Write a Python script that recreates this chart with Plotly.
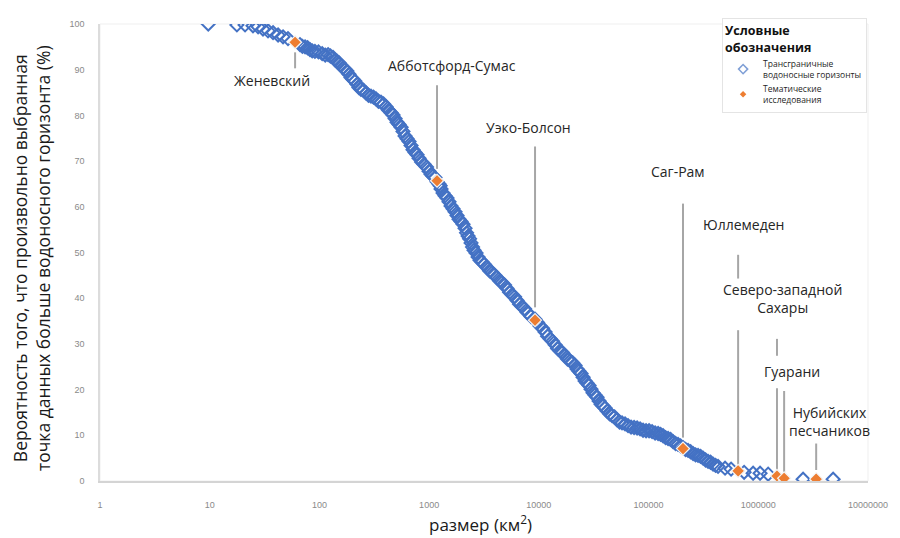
import plotly.graph_objects as go
import math

# Transboundary aquifers: size (km2) vs exceedance probability (%)
blue_size = [9.7, 17.7, 21, 24.8, 27.6, 30.6, 34, 37.8, 42, 46.6, 51.7, 66.5, 74, 82, 91, 106, 120, 133,
             145, 157, 171, 186, 202, 220, 239, 266, 295, 328, 364, 405, 450, 489, 532, 578, 629, 684,
             744, 809, 899, 998, 1086, 1284, 1396, 1518, 1651, 1796, 1953, 2124, 2264, 2410, 2566, 2792,
             3036, 3372, 3744, 4158, 4620, 5130, 5700, 6330, 7030, 7800, 10250, 11400, 12650, 14060,
             15600, 17300, 19250, 21400, 23250, 25300, 27500, 29900, 32500, 35400, 38500, 41900, 46500,
             51600, 57300, 65000, 73800, 83700, 94900, 107700, 122200, 135600, 150600, 167100, 185600,
             229000, 254600, 282600, 314000, 348600, 387000, 430000, 498000, 565000, 743000, 897000,
             1038000, 1230000, 2560000, 4810000]
blue_pct = [100.0, 99.8, 99.8, 99.6, 99.4, 98.9, 98.5, 98.1, 97.6, 97.2, 96.8, 95.5, 95.0, 94.4, 94.0,
            93.5, 93.3, 92.7, 91.8, 90.9, 90.1, 89.0, 87.9, 86.8, 85.7, 84.9, 84.2, 83.6, 82.9, 81.9,
            80.6, 79.3, 78.0, 76.5, 74.9, 73.4, 71.9, 70.6, 69.3, 67.8, 66.7, 63.9, 62.4, 61.1, 59.6,
            58.1, 56.8, 55.3, 53.6, 52.1, 50.5, 49.0, 47.9, 46.7, 45.6, 44.5, 43.4, 42.1, 40.8, 39.5,
            38.2, 36.9, 33.9, 32.6, 31.1, 29.8, 28.5, 27.4, 26.3, 25.3, 24.0, 22.7, 21.4, 20.1, 18.8,
            17.5, 16.4, 15.3, 14.3, 13.4, 12.7, 12.1, 11.7, 11.4, 11.0, 10.8, 10.4, 9.9, 9.3, 8.6, 8.0,
            6.7, 6.0, 5.6, 5.0, 4.3, 3.7, 3.2, 2.8, 2.6, 1.9, 1.7, 1.7, 1.5, 0.4, 0.4]
blue_size_dense = [70, 78, 86, 98, 113, 126, 139, 151, 164, 178,
                   194, 211, 229, 252, 280, 311, 345, 384, 427, 469,
                   510, 555, 603, 656, 713, 776, 853, 947, 1041, 1130,
                   1180, 1230, 1260, 1339, 1456, 1583, 1722, 1873, 2037, 2193,
                   2336, 2487, 2677, 2911, 3200, 3553, 3946, 4383, 4868, 5408,
                   6007, 6671, 7405, 8485, 9230, 9730, 10810, 12010, 13340, 14810,
                   16430, 18250, 20300, 22300, 24250, 26380, 28680, 31170, 33920, 36920,
                   40160, 44140, 48980, 54370, 61030, 69260, 78600, 89100, 101100, 114700,
                   128700, 142900, 158600, 176100, 195700, 206400, 217400, 241500, 268200, 297900,
                   330800, 367300, 408000]
blue_pct_dense = [95.1, 94.8, 94.1, 93.9, 93.2, 93.0, 92.1, 91.5, 90.4, 89.7,
                  88.3, 87.5, 86.1, 85.5, 84.4, 84.0, 83.1, 82.5, 81.1, 80.1,
                  78.5, 77.4, 75.5, 74.3, 72.5, 71.4, 69.8, 68.7, 67.1, 66.4,
                  65.5, 65.0, 64.6, 63.0, 61.9, 60.2, 58.9, 57.3, 56.2, 54.3,
                  53.0, 51.2, 49.9, 48.3, 47.4, 46.0, 45.1, 43.8, 42.9, 41.3,
                  40.3, 38.7, 37.7, 36.0, 35.4, 34.7, 33.4, 31.7, 30.6, 29.0,
                  28.1, 26.7, 25.9, 24.5, 23.5, 21.9, 20.9, 19.3, 18.3, 16.8,
                  16.0, 14.7, 14.0, 12.9, 12.5, 11.8, 11.6, 11.1, 11.0, 10.5,
                  10.2, 9.5, 9.1, 8.2, 7.7, 7.3, 6.9, 6.4, 5.7, 5.4,
                  4.6, 4.1, 3.4]

# Case studies
case_names = ["Женевский", "Абботсфорд-Сумас", "Уэко-Болсон", "Саг-Рам", "Юллемеден",
              "Северо-западной<br>Сахары", "Гуарани", "Нубийских<br>песчаников"]
case_size = [60, 1180, 9230, 206000, 655000, 1480000, 1720000, 3370000]
case_pct = [96.0, 65.7, 35.2, 7.1, 2.2, 1.1, 0.6, 0.4]

x_tick_vals = [1, 10, 100, 1000, 10000, 100000, 1000000, 10000000]
x_tick_text = ["1", "10", "100", "1000", "10000", "100000", "1000000", "10000000"]
y_tick_vals = [0, 10, 20, 30, 40, 50, 60, 70, 80, 90, 100]

legend_blue = "Трансграничные<br>водоносные горизонты"
legend_orange = "Тематические<br>исследования"

# label layout (centre of label in data units) and leader-line y-extents per case
label_pos = [(37, 87.7), (1615, 90.9), (7980, 77.3), (186000, 67.8), (728000, 56.2),
             (1650000, 40.0), (2030000, 23.9), (4420000, 13.0)]
leader_segments = [[(93.8, 90.3)], [(86.6, 68.3)], [(73.2, 38.0)], [(60.7, 9.5)],
                   [(49.5, 44.3), (33.0, 3.5)], [(31.1, 27.4), (20.3, 2.4)], [(19.7, 1.9)],
                   [(8.2, 2.4)]]

BLUE = "#4472C4"
ORANGE = "#ED7D31"

all_size = blue_size + blue_size_dense
all_pct = blue_pct + blue_pct_dense

fig = go.Figure()
fig.add_trace(go.Scatter(
    x=all_size, y=all_pct, mode="markers", showlegend=False,
    marker=dict(symbol="diamond-open", size=10, color=BLUE, line=dict(width=2, color=BLUE)),
))
fig.add_trace(go.Scatter(
    x=case_size, y=case_pct, mode="markers", showlegend=False,
    marker=dict(symbol="diamond", size=10, color=ORANGE, line=dict(width=1.2, color="#f4f4f4")),
))
# legend-only entries
fig.add_trace(go.Scatter(x=[None], y=[None], mode="markers", name=legend_blue,
                         marker=dict(symbol="diamond-open", size=7, color="#7f9fd6",
                                     line=dict(width=1.5, color="#7f9fd6"))))
fig.add_trace(go.Scatter(x=[None], y=[None], mode="markers", name=legend_orange,
                         marker=dict(symbol="diamond", size=5, color=ORANGE)))

shapes = []
for xs, segs in zip(case_size, leader_segments):
    for y0, y1 in segs:
        shapes.append(dict(type="line", xref="x", yref="y", x0=xs, x1=xs, y0=y0, y1=y1,
                           line=dict(color="#a6a6a6", width=2), layer="below"))
# faint plot frame (top / right)
shapes.append(dict(type="rect", xref="paper", yref="paper", x0=0, x1=1, y0=0, y1=1,
                   line=dict(color="#efefef", width=1), layer="below"))

annotations = []
for name, (lx, ly) in zip(case_names, label_pos):
    annotations.append(dict(x=math.log10(lx), y=ly, xref="x", yref="y", text=name, showarrow=False,
                            font=dict(family="Open Sans", size=14, color="#262626"),
                            xanchor="center", yanchor="middle", align="center"))
annotations.append(dict(x=-0.0885, y=0.488, xref="paper", yref="paper", showarrow=False,
                        text="Вероятность того, что произвольно выбранная<br>точка данных больше водоносного горизонта (%)",
                        textangle=-90, font=dict(family="Open Sans", size=17.5, color="#1a1a1a"),
                        xanchor="center", yanchor="middle", align="center"))
annotations.append(dict(x=0.495, y=-0.094, xref="paper", yref="paper", showarrow=False,
                        text="размер (км<sup>2</sup>)",
                        font=dict(family="Open Sans", size=17, color="#1a1a1a"),
                        xanchor="center", yanchor="middle"))

# The page places the figure 8 px from the window's top-left corner.
fig.update_layout(
    width=892, height=530,
    margin=dict(l=92, r=32, t=10, b=57),
    paper_bgcolor="white", plot_bgcolor="white",
    shapes=shapes, annotations=annotations,
    xaxis=dict(type="log", range=[0, 7], tickvals=x_tick_vals, ticktext=x_tick_text,
               showgrid=False, zeroline=False, showline=True, linecolor="#d4d4d4", linewidth=2,
               ticks="", ticklabelstandoff=14,
               tickfont=dict(family="Liberation Sans", size=9, color="#8a8a8a")),
    yaxis=dict(range=[0, 100], tickvals=y_tick_vals, showgrid=False, zeroline=False,
               showline=True, linecolor="#dcdcdc", linewidth=1.5,
               ticks="", ticklabelstandoff=12,
               tickfont=dict(family="Liberation Sans", size=9, color="#8a8a8a")),
    legend=dict(x=0.81, y=1.013, xanchor="left", yanchor="top",
                bgcolor="white", bordercolor="#e4e4e4", borderwidth=1,
                font=dict(family="Open Sans", size=8.5, color="#262626"),
                title=dict(text="<b>Условные<br>обозначения</b>",
                           font=dict(family="Open Sans", size=12.5, color="#111111")),
                itemsizing="trace", tracegroupgap=0, itemwidth=30),
)

fig.write_html("out.html")
